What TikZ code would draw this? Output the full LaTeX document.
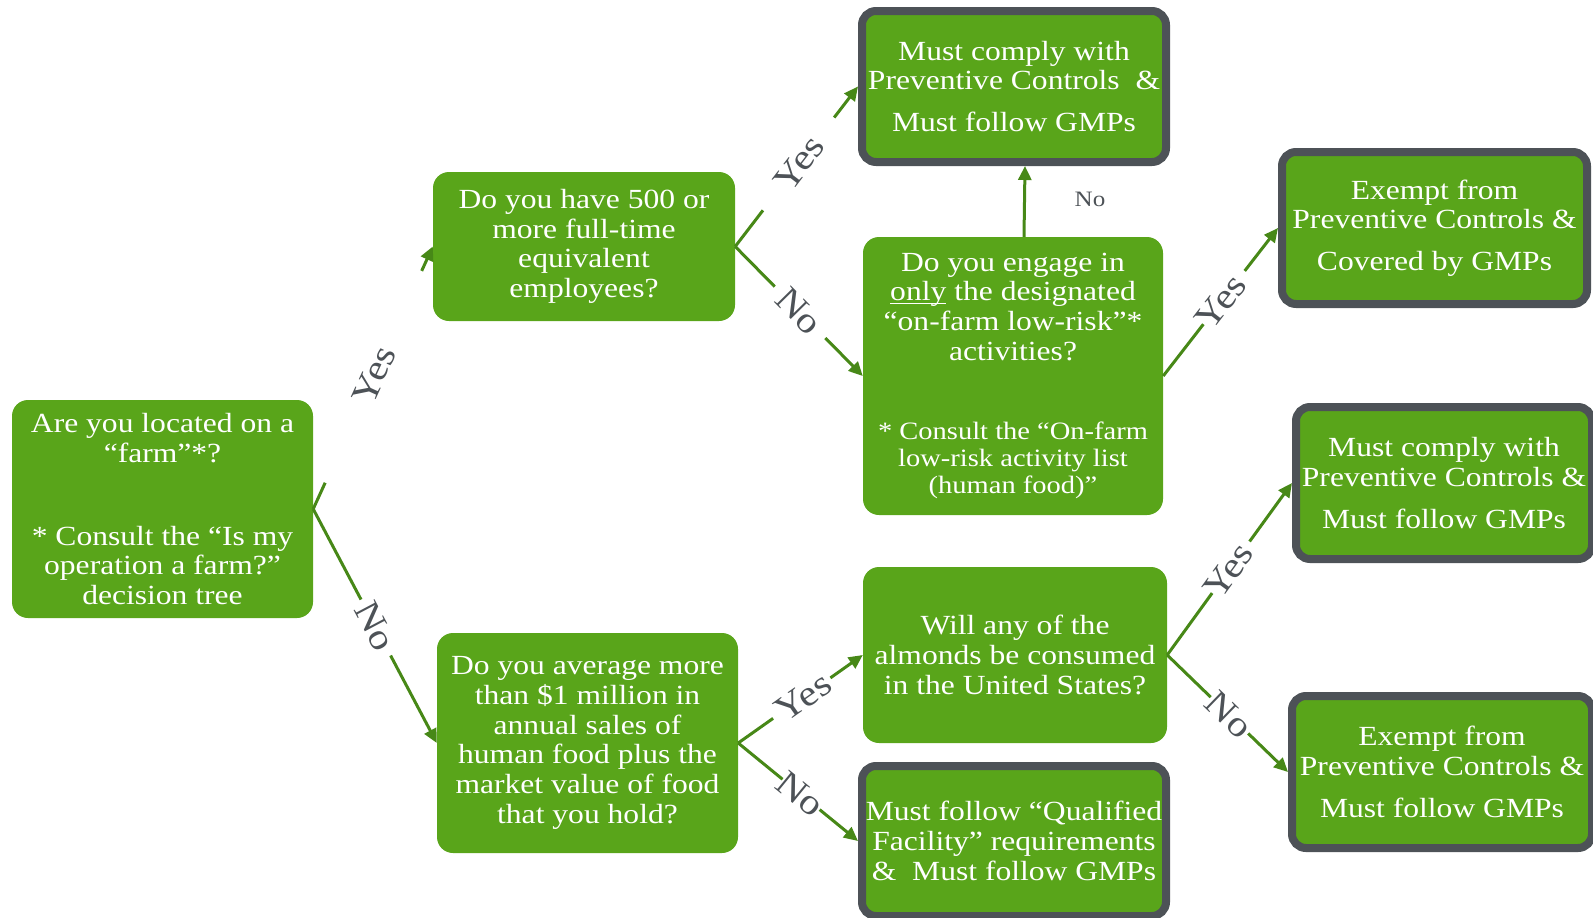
\documentclass[tikz,border=0pt]{standalone}
\usepackage{fontspec}
\setmainfont[FakeStretch=1.14]{Liberation Serif}
\usetikzlibrary{arrows.meta,calc}
\definecolor{boxgreen}{RGB}{89,165,26}
\definecolor{bordergray}{RGB}{77,82,87}
\definecolor{linegreen}{RGB}{71,136,23}
\definecolor{labelgray}{RGB}{77,82,87}
\newcommand\myul[1]{\setbox0\hbox{#1}\rlap{\rule[-3.5pt]{\wd0}{1.6pt}}#1}
\newcommand\myconn[7]{%
  \draw[conn] (#1) -- ($(#1)!#3!(#2)$);
  \draw[arr] ($(#1)!#4!(#2)$) -- (#2);
  \path (#1) -- (#2) node[lbl, pos=#5] (#7) {#6};
}
\begin{document}
\begin{tikzpicture}[x=1pt,y=-1pt,
  qbox/.style={rounded corners=16pt, fill=boxgreen, text=white, align=center, inner sep=0pt, font=\fontsize{27.7}{29.7}\selectfont},
  obox/.style={qbox, draw=bordergray, line width=8pt, rounded corners=14pt},
  conn/.style={draw=linegreen, line width=3pt},
  arr/.style={conn, -{Triangle[length=14pt,width=13pt]}},
  lbl/.style={text=labelgray, font=\fontsize{36}{36}\selectfont, sloped, inner sep=0pt}
]
\useasboundingbox (0,0) rectangle (1593,918);

\node[qbox, minimum width=301pt, minimum height=218pt] (A) at (162.5,509)
  {Are you located on a\\ “farm”*?\\[53.3pt] * Consult the “Is my\\ operation a farm?”\\ decision tree};
\node[qbox, minimum width=302pt, minimum height=149pt] (B) at (584,246.5)
  {Do you have 500 or\\ more full-time\\ equivalent\\ employees?};
\node[obox, minimum width=304pt, minimum height=151pt] (C) at (1014,86.5)
  {Must comply with\\ Preventive Controls\ \ \&\\[12pt] Must follow GMPs};
\node[qbox, minimum width=300pt, minimum height=278pt] (D) at (1013,376)
  {Do you engage in\\ \myul{only} the designated\\ “on-farm low-risk”*\\ activities?\\[50pt]
   {\fontsize{25}{27}\selectfont * Consult the “On-farm}\\[-2.7pt]
   {\fontsize{25}{27}\selectfont low-risk activity list}\\[-2.7pt]
   {\fontsize{25}{27}\selectfont (human food)”}};
\node[obox, minimum width=305pt, minimum height=152pt] (E) at (1434.5,228)
  {Exempt from\\ Preventive Controls \&\\[12pt] Covered by GMPs};
\node[obox, minimum width=296pt, minimum height=152pt] (F) at (1444,483)
  {Must comply with\\ Preventive Controls \&\\[12pt] Must follow GMPs};
\node[qbox, minimum width=304pt, minimum height=176pt] (G) at (1015,655)
  {Will any of the\\ almonds be consumed\\ in the United States?};
\node[obox, minimum width=304pt, minimum height=150pt] (H) at (1014,841)
  {Must follow “Qualified\\ Facility” requirements\\ \&\ \ Must follow GMPs};
\node[qbox, minimum width=301pt, minimum height=220pt] (I) at (587.5,743)
  {Do you average more\\ than \$1 million in\\ annual sales of\\ human food plus the\\ market value of food\\ that you hold?};
\node[obox, minimum width=300pt, minimum height=152pt] (J) at (1442,772)
  {Exempt from\\ Preventive Controls \&\\[12pt] Must follow GMPs};

\myconn{A.east}{B.west}{0.10}{0.907}{0.51}{Yes}{l1}
\myconn{A.east}{I.west}{0.387}{0.626}{0.50}{No}{l2}
\myconn{B.east}{C.west}{0.226}{0.806}{0.52}{Yes}{l3}
\myconn{B.east}{D.west}{0.31}{0.707}{0.50}{No}{l4}
\myconn{D.east}{E.west}{0.35}{0.71}{0.50}{Yes}{l5}
\myconn{I.east}{G.west}{0.28}{0.74}{0.52}{Yes}{l6}
\myconn{I.east}{H.west}{0.37}{0.68}{0.52}{No}{l7}
\myconn{G.east}{F.west}{0.36}{0.66}{0.49}{Yes}{l8}
\myconn{G.east}{J.west}{0.36}{0.67}{0.51}{No}{l9}

\draw[arr] ([xshift=11pt]D.north) -- ([xshift=11pt]C.south);
\node[text=labelgray, font=\fontsize{22}{22}\selectfont, inner sep=0pt] (l10) at (1090,199) {No};
\end{tikzpicture}
\end{document}
